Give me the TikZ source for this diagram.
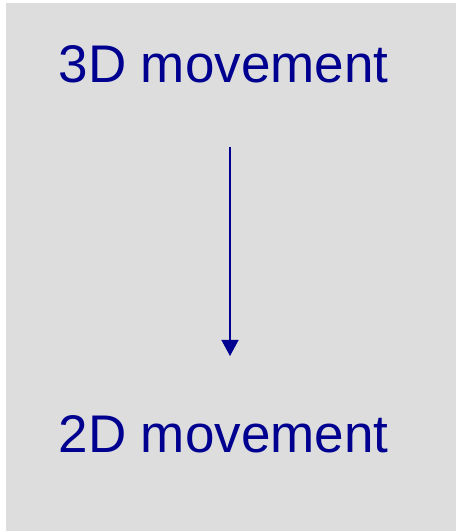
\documentclass[tikz,border=0pt]{standalone}
\usepackage{fontspec}
\setmainfont{Liberation Sans}
\usetikzlibrary{arrows.meta}
\definecolor{bg}{HTML}{DDDDDD}
\definecolor{navy}{HTML}{000090}
\begin{document}
\begin{tikzpicture}[x=1pt,y=1pt,
  lbl/.style={text=navy,font=\fontsize{53}{60}\selectfont,inner sep=0pt,anchor=base},
  arr/.style={draw=navy,line width=1.3pt,-{Triangle[length=16pt,width=17pt]}}]
\useasboundingbox (0,0) rectangle (456,531);
\fill[white] (0,0) rectangle (456,531);
\fill[bg] (6,0) rectangle (456,528);
\node[lbl] (top) at (223.5,448) {3D movement};
\node[lbl] (bot) at (223.5,78) {2D movement};
\coordinate (a) at (230,384);
\coordinate (b) at (230,175);
\draw[arr] (a) -- (b);
\end{tikzpicture}
\end{document}
